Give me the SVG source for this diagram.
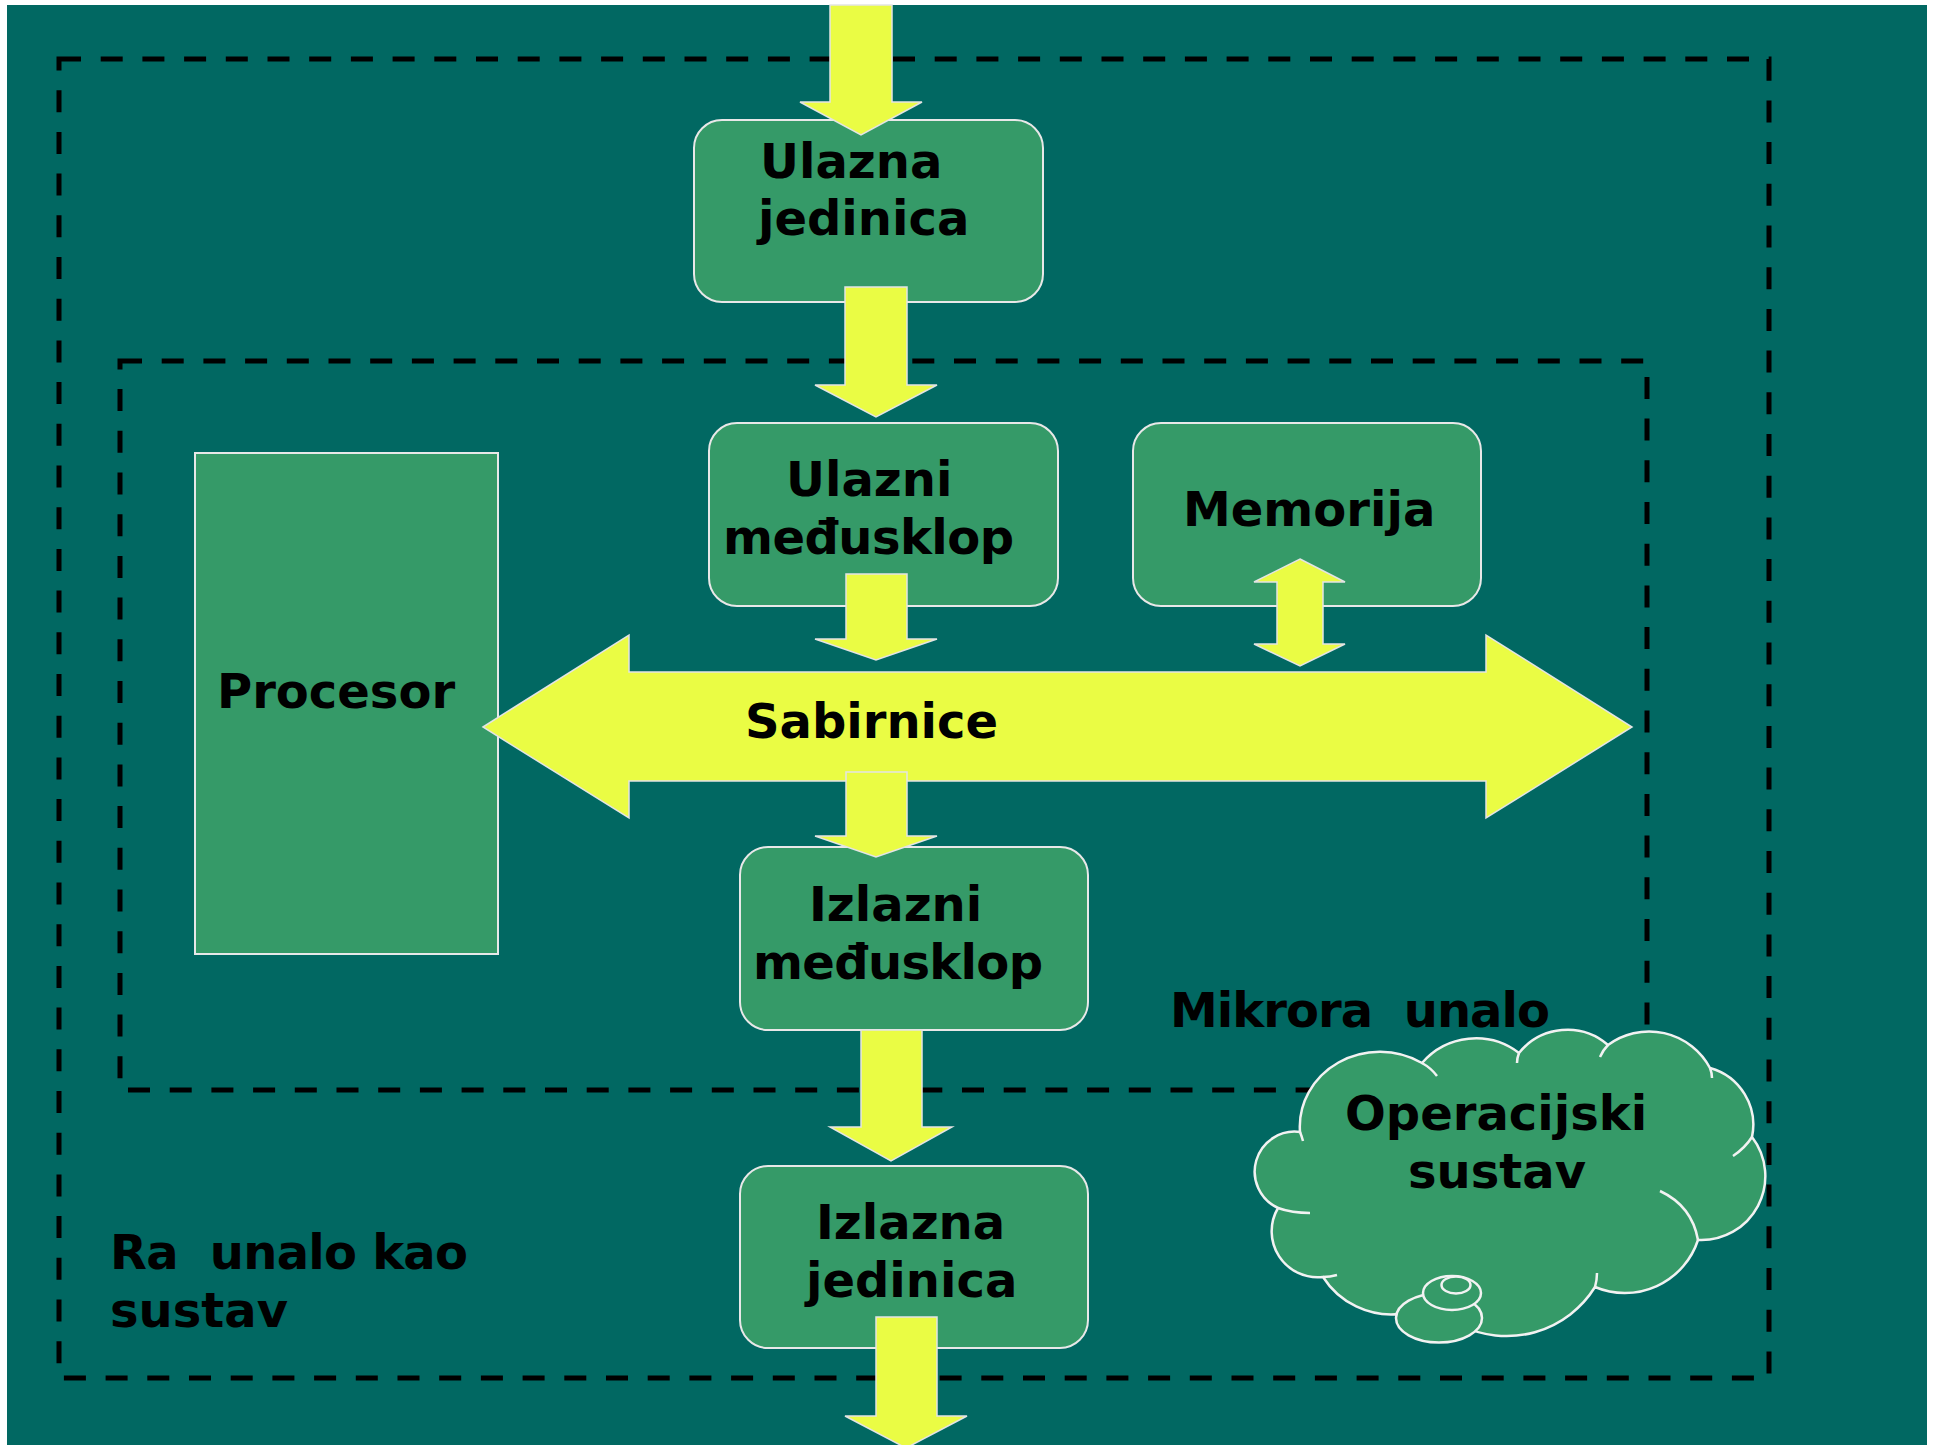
<svg xmlns="http://www.w3.org/2000/svg" width="1933" height="1445" viewBox="0 0 1933 1445">
<style>
  .bg { fill: #016862; }
  .box { fill: #359a68; stroke: #e8e8e8; stroke-width: 2; }
  .arrow { fill: #eafc44; stroke: #e4e4e4; stroke-width: 1.5; stroke-linejoin: miter; }
  .dash { fill: none; stroke: #000; stroke-width: 5; stroke-dasharray: 22 19.7; }
  .cloud { fill: #359a68; stroke: #f2f2f2; stroke-width: 2.5; }
  .tail { fill: none; stroke: #f2f2f2; stroke-width: 2.5; }
  text { font-family: "DejaVu Sans", Verdana, sans-serif; font-weight: bold; font-size: 48px; fill: #000; }
  .pre { white-space: pre; }
</style>
<rect x="0" y="0" width="1933" height="1445" fill="#ffffff"/>
<rect class="bg" x="7" y="5" width="1920" height="1440"/>

<g id="inner-boundary">
  <rect class="dash" x="120" y="361" width="1527" height="729"/>
  <text id="label-mikroracunalo" class="pre" x="1170" y="1027" xml:space="preserve" textLength="380" lengthAdjust="spacing">Mikrora  unalo</text>
</g>

<g id="procesor">
  <rect class="box" x="195" y="453" width="303" height="501"/>
  <text x="217" y="708">Procesor</text>
</g>

<g id="ulazna-jedinica">
  <rect class="box" x="694" y="120" width="349" height="182" rx="28" ry="28"/>
  <text x="760" y="178">Ulazna</text>
  <text x="758" y="235">jedinica</text>
</g>

<g id="ulazni-medjusklop">
  <rect class="box" x="709" y="423" width="349" height="183" rx="28" ry="28"/>
  <text x="786" y="496">Ulazni</text>
  <text x="723" y="554" textLength="291" lengthAdjust="spacing">međusklop</text>
</g>

<g id="memorija">
  <rect class="box" x="1133" y="423" width="348" height="183" rx="28" ry="28"/>
  <text x="1183" y="526">Memorija</text>
</g>

<g id="izlazni-medjusklop">
  <rect class="box" x="740" y="847" width="348" height="183" rx="28" ry="28"/>
  <text x="809" y="921">Izlazni</text>
  <text x="753" y="979" textLength="290" lengthAdjust="spacing">međusklop</text>
</g>

<g id="izlazna-jedinica">
  <rect class="box" x="740" y="1166" width="348" height="182" rx="28" ry="28"/>
  <text x="816" y="1239">Izlazna</text>
  <text x="806" y="1297">jedinica</text>
</g>

<g id="operacijski-sustav">
  <path class="cloud" d="M1300,1132 A80,75 0 0 1 1422,1063 A71,71 0 0 1 1519,1053 A62,62 0 0 1 1608,1045 A69,69 0 0 1 1710,1068 A59,59 0 0 1 1752,1137 A64,64 0 0 1 1698,1240 A77,77 0 0 1 1595,1287 A104,104 0 0 1 1460,1325 L1400,1314 A81,81 0 0 1 1323,1277 A46,46 0 0 1 1278,1208 A40,40 0 0 1 1300,1132 Z"/>
  <path class="tail" d="M1300,1132 Q1302,1137 1303,1141 M1422,1063 Q1431,1068 1437,1076 M1519,1053 Q1517,1058 1517,1063 M1608,1045 Q1603,1050 1600,1057 M1710,1068 Q1712,1073 1712,1078 M1752,1137 Q1745,1148 1733,1156 M1660,1191 Q1692,1206 1698,1240 M1597,1273 Q1597,1280 1595,1287 M1323,1277 Q1330,1277 1337,1275 M1278,1208 Q1292,1213 1310,1213"/>
  <ellipse class="cloud" cx="1439" cy="1318" rx="43" ry="24.5"/>
  <ellipse class="cloud" cx="1452" cy="1293" rx="29" ry="17"/>
  <ellipse class="cloud" cx="1456" cy="1285" rx="14.5" ry="8.5"/>
  <text x="1345" y="1130">Operacijski</text>
  <text x="1408" y="1188">sustav</text>
</g>

<g id="outer-boundary">
  <rect class="dash" x="59" y="59" width="1710" height="1319"/>
  <text id="label-racunalo" class="pre" x="110" y="1269" xml:space="preserve" textLength="358" lengthAdjust="spacing">Ra  unalo kao</text>
  <text x="110" y="1327">sustav</text>
</g>

<g id="connectors">
  <polygon class="arrow" points="830,5 892,5 892,102 922,102 861,135 800,102 830,102"/>
  <polygon class="arrow" points="845,287 907,287 907,385 937,385 876,417 815,385 845,385"/>
  <polygon class="arrow" points="846,574 907,574 907,639 937,639 876,660 815,639 846,639"/>
  <polygon class="arrow" points="1300,559 1345,582 1323,582 1323,644 1345,644 1300,666 1254,644 1277,644 1277,582 1254,582"/>
  <g id="sabirnice">
    <polygon class="arrow" points="483,727 629,635 629,672 1486,672 1486,635 1632,727 1486,818 1486,781 629,781 629,818"/>
    <text x="745" y="738">Sabirnice</text>
  </g>
  <polygon class="arrow" points="846,772 907,772 907,836 937,836 876,857 815,836 846,836"/>
  <polygon class="arrow" points="861,1030 922,1030 922,1127 952,1127 891,1161 830,1127 861,1127"/>
  <polygon class="arrow" points="876,1317 937,1317 937,1416 967,1416 906,1448 845,1416 876,1416"/>
</g>
</svg>
